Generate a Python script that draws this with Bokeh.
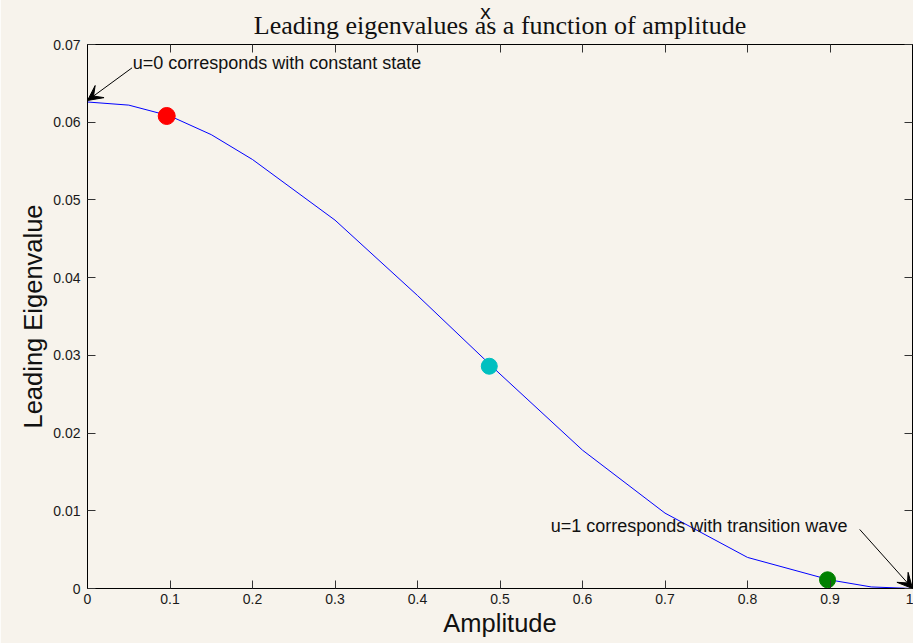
from bokeh.plotting import figure
from bokeh.models import Range1d, FixedTicker, LinearAxis, Label, Arrow, VeeHead
from bokeh.embed import file_html
from bokeh.resources import INLINE

# ---- data ----
amplitude = [0.0, 0.05, 0.1, 0.15, 0.2, 0.3, 0.4, 0.5, 0.6, 0.7, 0.8, 0.9, 0.95, 1.0]
eigenvalue = [0.0626, 0.0622, 0.0608, 0.0584, 0.0552, 0.0474, 0.0377, 0.0276,
              0.0178, 0.0097, 0.0040, 0.0011, 0.0002, 0.0]

marker_amp = [0.096, 0.487, 0.897]
marker_eig = [0.0608, 0.0286, 0.00112]
marker_colors = ["#ff0000", "#00c0c0", "#008000"]
marker_sizes = [17, 16, 16]

x_ticks = [0.0, 0.1, 0.2, 0.3, 0.4, 0.5, 0.6, 0.7, 0.8, 0.9, 1.0]
x_tick_labels = ["0", "0.1", "0.2", "0.3", "0.4", "0.5", "0.6", "0.7", "0.8", "0.9", "1"]
y_ticks = [0.0, 0.01, 0.02, 0.03, 0.04, 0.05, 0.06, 0.07]
y_tick_labels = ["0", "0.01", "0.02", "0.03", "0.04", "0.05", "0.06", "0.07"]

title_text = "Leading eigenvalues as a function of amplitude"
top_label = "x"
x_label = "Amplitude"
y_label = "Leading Eigenvalue"
note_start = "u=0 corresponds with constant state"
note_end = "u=1 corresponds with transition wave"

BG = "#f7f3ec"
SANS = "Liberation Sans"
SHIFT = 4  # canvas rows hidden above the window, so the "x" can sit near the top edge

p = figure(width=913, height=643 + SHIFT, output_backend="svg", toolbar_location=None,
           x_range=Range1d(0, 1), y_range=Range1d(0, 0.07),
           min_border_left=87, min_border_right=1, min_border_top=44, min_border_bottom=55,
           background_fill_color=BG, border_fill_color=BG,
           outline_line_color="black", outline_line_width=1)
p.styles = {"margin-top": f"-{SHIFT}px"}
p.grid.visible = False

left = p.left[0]
bottom = p.below[0]
top = LinearAxis()
right = LinearAxis()
p.add_layout(top, "above")
p.add_layout(right, "right")

for ax, ticks, labels in [(left, y_ticks, y_tick_labels), (right, y_ticks, y_tick_labels),
                          (bottom, x_ticks, x_tick_labels), (top, x_ticks, x_tick_labels)]:
    ax.ticker = FixedTicker(ticks=ticks)
    ax.major_tick_in = 8
    ax.major_tick_out = 0
    ax.minor_tick_in = 0
    ax.minor_tick_out = 0
    ax.axis_line_color = "black"
    ax.major_tick_line_color = "#333333"
    ax.major_label_text_font = SANS
    ax.major_label_text_font_size = "14px"
    ax.major_label_text_color = "#1a1a1a"
    ax.major_label_overrides = {t: l for t, l in zip(ticks, labels)}

for ax in (top, right):
    ax.major_label_text_font_size = "0px"
    ax.major_label_standoff = 0
    ax.major_label_overrides = {t: "" for t in (x_ticks if ax is top else y_ticks)}

left.major_label_standoff = 7
bottom.major_label_standoff = 5
left.axis_label = y_label
bottom.axis_label = x_label
for ax in (left, bottom):
    ax.axis_label_text_font = SANS
    ax.axis_label_text_font_size = "25.5px"
    ax.axis_label_text_font_style = "normal"
    ax.axis_label_text_color = "#111111"
left.axis_label_standoff = 3
bottom.axis_label_standoff = 2

# the stray "x" as the label of the boxed top axis (shifted left with no-break spaces)
top.axis_label = top_label + "\u00a0" * 5
top.axis_label_text_font = SANS
top.axis_label_text_font_size = "21px"
top.axis_label_text_font_style = "normal"
top.axis_label_text_color = "#111111"
top.axis_label_standoff = 22

# the title as the label of an outer, bare top axis pulled back down
title_axis = LinearAxis(ticker=FixedTicker(ticks=[]), axis_line_color=None,
                        major_tick_line_color=None, minor_tick_line_color=None,
                        major_tick_in=0, major_tick_out=0, minor_tick_in=0, minor_tick_out=0,
                        major_label_text_font_size="0px", major_label_standoff=0)
title_axis.axis_label = title_text
title_axis.axis_label_text_font = "Liberation Serif"
title_axis.axis_label_text_font_size = "26px"
title_axis.axis_label_text_font_style = "normal"
title_axis.axis_label_text_color = "#111111"
title_axis.axis_label_standoff = -43
p.add_layout(title_axis, "above")

# curve and markers
p.line(amplitude, eigenvalue, line_color="#0000ff", line_width=1)
p.scatter(marker_amp, marker_eig, size=marker_sizes, fill_color=marker_colors,
          line_color=marker_colors, marker="circle")

# annotations
p.add_layout(Label(x=0.0548, y=0.0676, text=note_start, text_font=SANS,
                   text_font_size="18px", text_align="left", text_baseline="alphabetic",
                   text_color="#111111"))
p.add_layout(Arrow(end=VeeHead(size=15, fill_color="black", line_color="black"),
                   x_start=0.054, y_start=0.0670, x_end=0.0, y_end=0.0628,
                   line_color="black", line_width=1))
p.add_layout(Label(x=0.5615, y=0.0080, text=note_end, text_font=SANS,
                   text_font_size="18px", text_align="left", text_baseline="alphabetic",
                   text_color="#111111"))
p.add_layout(Arrow(end=VeeHead(size=15, fill_color="black", line_color="black"),
                   x_start=0.936, y_start=0.0076, x_end=1.0, y_end=0.0,
                   line_color="black", line_width=1))

open("out.html", "w").write(file_html(p, INLINE))
